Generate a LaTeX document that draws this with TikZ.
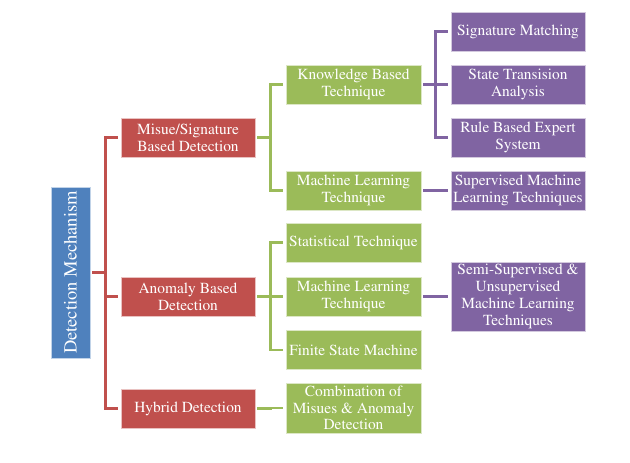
\documentclass[tikz,border=0pt]{standalone}
\usepackage[T1]{fontenc}
\renewcommand\rmdefault{ptm}
\begin{document}
\begin{tikzpicture}[x=1pt,y=-1pt,
  box/.style={draw=white!65!#1, line width=0.7pt, fill=#1, text=white, align=center, inner sep=0pt,
    font=\fontsize{15.4}{16.8}\selectfont},
  redbox/.style={box=cred, minimum width=134pt, minimum height=39pt},
  greenbox/.style={box=cgreen, minimum width=135pt, minimum height=39pt},
  purplebox/.style={box=cpurple, minimum width=134pt, minimum height=39pt},
  conn/.style={draw=#1, line width=2.4pt, line join=miter, shorten <=2pt, shorten >=3pt},
]
\definecolor{cblue}{HTML}{4F81BD}
\definecolor{cred}{HTML}{C0504D}
\definecolor{cgreen}{HTML}{9BBB59}
\definecolor{cpurple}{HTML}{8064A2}
\fill[white] (0,0) rectangle (630,463);
\useasboundingbox (0,0) rectangle (630,463);

% root
\node[box=cblue, rotate=90, minimum width=171pt, minimum height=39pt,
  font=\fontsize{18.5}{20}\selectfont] (root) at (70.5,272.5) {Detection Mechanism};

% red
\node[redbox] (mis) at (188,137.5) {Misue/Signature\\Based Detection};
\node[redbox] (ano) at (188,296.5) {Anomaly Based\\Detection};
\node[redbox] (hyb) at (188,408.5) {Hybrid Detection};

% green
\node[greenbox] (kb) at (353.5,84.5) {Knowledge Based\\Technique};
\node[greenbox] (ml1) at (353.5,190.5) {Machine Learning\\Technique};
\node[greenbox] (st) at (353.5,242.5) {Statistical Technique};
\node[greenbox] (ml2) at (353.5,296.5) {Machine Learning\\Technique};
\node[greenbox] (fsm) at (353.5,350) {Finite State Machine};
\node[greenbox, minimum height=50pt] (comb) at (353.5,408) {Combination of\\Misues \& Anomaly\\Detection};

% purple
\node[purplebox] (sig) at (518,31.5) {Signature Matching};
\node[purplebox] (sta) at (518,84.5) {State Transision\\Analysis};
\node[purplebox] (rul) at (518,137.5) {Rule Based Expert\\System};
\node[purplebox] (sup) at (518,190.5) {Supervised Machine\\Learning Techniques};
\node[purplebox, minimum height=69pt] (semi) at (518,296.5) {Semi-Supervised \&\\Unsupervised\\Machine Learning\\Techniques};

% red connectors
\foreach \t in {mis,ano,hyb}
  \draw[conn=cred] (root.south) -- ++(15,0) |- (\t.west);
% green connectors
\foreach \t in {kb,ml1}
  \draw[conn=cgreen] (mis.east) -- ++(15,0) |- (\t.west);
\foreach \t in {st,ml2,fsm}
  \draw[conn=cgreen] (ano.east) -- ++(15,0) |- (\t.west);
\draw[conn=cgreen] (hyb.east) -- ++(15,0) |- (comb.west);
% purple connectors
\foreach \t in {sig,sta,rul}
  \draw[conn=cpurple] (kb.east) -- ++(14,0) |- (\t.west);
\draw[conn=cpurple] (ml1.east) -- ++(14,0) |- (sup.west);
\draw[conn=cpurple] (ml2.east) -- ++(14,0) |- (semi.west);
\end{tikzpicture}
\end{document}
